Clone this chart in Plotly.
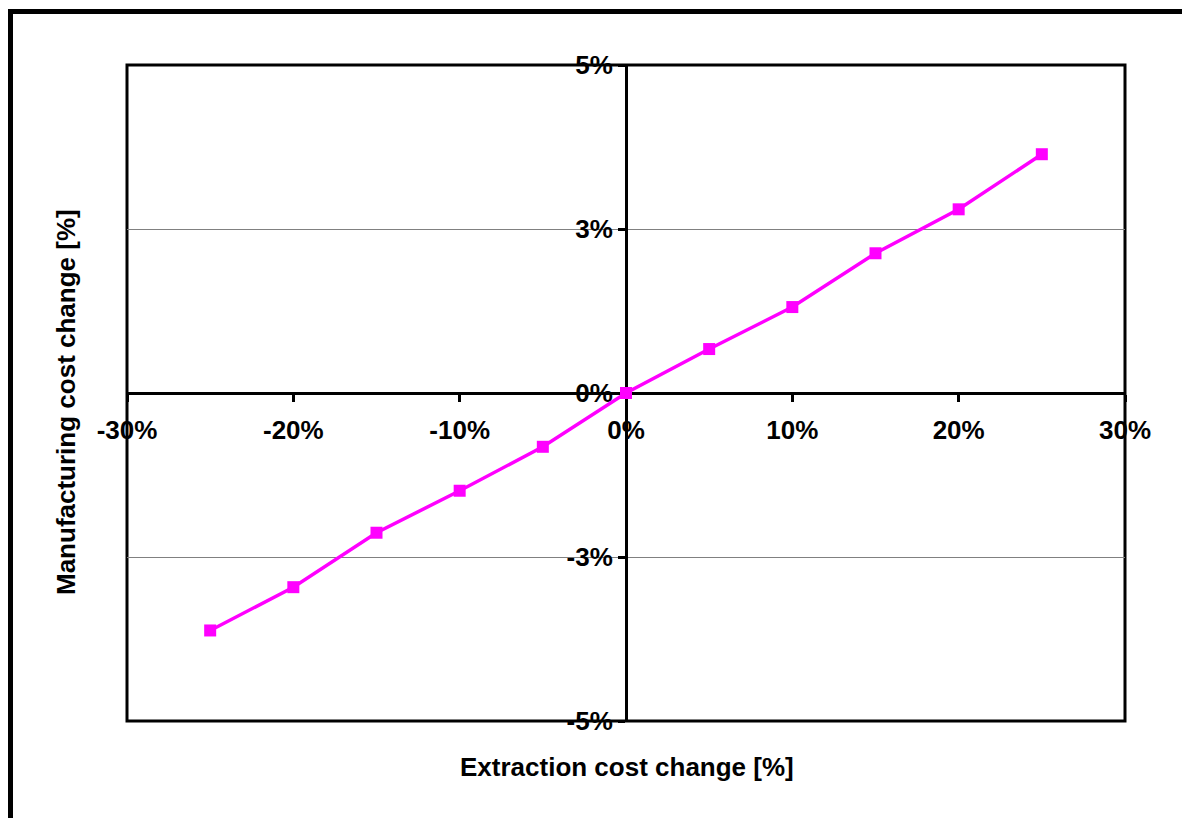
import plotly.graph_objects as go

# Data (percent units)
extraction_change = [-25, -20, -15, -10, -5, 0, 5, 10, 15, 20, 25]
manufacturing_change = [-3.62, -2.96, -2.13, -1.49, -0.82, 0.0, 0.67, 1.31, 2.13, 2.80, 3.64]

x_tickvals = [-30, -20, -10, 0, 10, 20, 30]
x_ticktext = ["-30%", "-20%", "-10%", "0%", "10%", "20%", "30%"]
y_tickvals = [-5, -2.5, 0, 2.5, 5]
y_ticktext = ["-5%", "-3%", "0%", "3%", "5%"]

FONT = "Arial, 'Liberation Sans', sans-serif"

fig = go.Figure()
fig.add_trace(go.Scatter(
    x=extraction_change, y=manufacturing_change,
    mode="lines+markers",
    line=dict(color="#FF00FF", width=3.5),
    marker=dict(symbol="square", size=12, color="#FF00FF"),
    showlegend=False,
))

W, H = 1182, 818
L, R, T, B = 127, 57, 65, 97
pw, ph = W - L - R, H - T - B

def px_to_paper_x(px):
    return (px - L) / pw

def px_to_paper_y(py):
    return (H - B - py) / ph

fig.update_layout(
    width=W, height=H,
    margin=dict(l=L, r=R, t=T, b=B, pad=0),
    paper_bgcolor="white", plot_bgcolor="white",
    font=dict(family=FONT, color="black"),
    xaxis=dict(
        range=[-30, 30], tickvals=x_tickvals, ticktext=x_ticktext,
        anchor="free", position=0.5, side="bottom",
        showline=True, linecolor="black", linewidth=3,
        ticks="outside", ticklen=7, tickwidth=3, tickcolor="black",
        ticklabelstandoff=6,
        showgrid=False, zeroline=False, layer="below traces",
        tickfont=dict(size=26, family=FONT, weight="bold", color="black"),
        fixedrange=True,
    ),
    yaxis=dict(
        range=[-5, 5], tickvals=y_tickvals, ticktext=y_ticktext,
        anchor="free", position=0.5, side="left",
        showline=True, linecolor="black", linewidth=3,
        ticks="outside", ticklen=7, tickwidth=3, tickcolor="black",
        showgrid=True, gridcolor="#808080", gridwidth=1,
        zeroline=False, layer="below traces",
        tickfont=dict(size=26, family=FONT, weight="bold", color="black"),
        fixedrange=True,
    ),
    shapes=[
        # plot area border
        dict(type="rect", xref="paper", yref="paper", x0=0, y0=0, x1=1, y1=1,
             line=dict(color="black", width=3), layer="below"),
        # outer chart frame
        dict(type="rect", xref="paper", yref="paper",
             x0=px_to_paper_x(10.5), y0=px_to_paper_y(840),
             x1=px_to_paper_x(1200), y1=px_to_paper_y(11.5),
             line=dict(color="black", width=5), layer="below"),
    ],
    annotations=[
        dict(text="Extraction cost change [%]", xref="paper", yref="paper",
             x=px_to_paper_x(627), y=px_to_paper_y(767),
             xanchor="center", yanchor="middle", showarrow=False,
             font=dict(size=26, family=FONT, weight="bold", color="black")),
        dict(text="Manufacturing cost change [%]", xref="paper", yref="paper",
             x=px_to_paper_x(66), y=px_to_paper_y(402),
             xanchor="center", yanchor="middle", showarrow=False, textangle=-90,
             font=dict(size=26, family=FONT, weight="bold", color="black")),
    ],
)

fig.write_html("out.html")
